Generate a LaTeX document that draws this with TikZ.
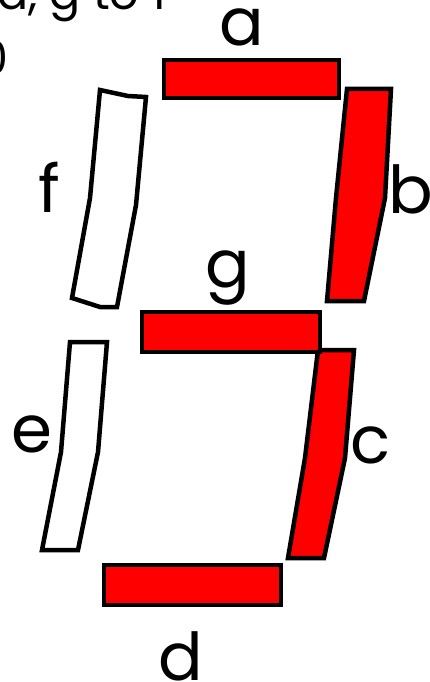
\documentclass[tikz,border=0pt]{standalone}
\usepackage{fontspec}
\usepackage{xcolor}
\usepackage{tikz}
\usetikzlibrary{positioning}
\newfontfamily\segfont{Poppins}

\begin{document}
\begin{tikzpicture}[x=1pt, y=-1pt,
    segon/.style={draw=black, fill=red, line width=4.5pt},
    segoff/.style={draw=black, fill=white, line width=4.5pt},
    lbl/.style={font=\segfont\fontsize{66}{66}\selectfont, inner sep=0pt, anchor=base},
    note/.style={font=\segfont\fontsize{46}{46}\selectfont, inner sep=0pt}]

\useasboundingbox (0,0) rectangle (429,682);
\clip (0,0) rectangle (429,682);

\node[note, anchor=base west] (top) at (-3,10) {d, g to 1};
\node[note, anchor=base east] (zero) at (9,75) {0};

\draw[segon] (164,60) rectangle (339,98);
\draw[segon] (347,89) -- (391,89) -- (385,198) -- (364,301) -- (327,301) -- (336,198) -- cycle;
\draw[segon] (318,350) -- (354,350) -- (345,458) -- (324,558) -- (288,558) -- (305,458) -- cycle;
\draw[segon] (104,565) rectangle (281,605);
\draw[segoff] (70,342) -- (107,342) -- (98,452) -- (78,550) -- (42,550) -- (61,452) -- cycle;
\draw[segoff] (100,90) -- (128,96) -- (146,97) -- (136,205) -- (117,307) -- (100,307) -- (72,298) -- (90,198) -- cycle;
\draw[segon] (142,312) rectangle (320,352);

\node[lbl] (la) at (242,46) {a};
\node[lbl] (lb) at (411,213) {b};
\node[lbl] (lc) at (371,463) {c};
\node[lbl] (ld) at (181,680) {d};
\node[lbl] (le) at (32,452) {e};
\node[lbl] (lf) at (49,212) {f};
\node[lbl] (lg) at (228,287) {g};
\end{tikzpicture}
\end{document}
